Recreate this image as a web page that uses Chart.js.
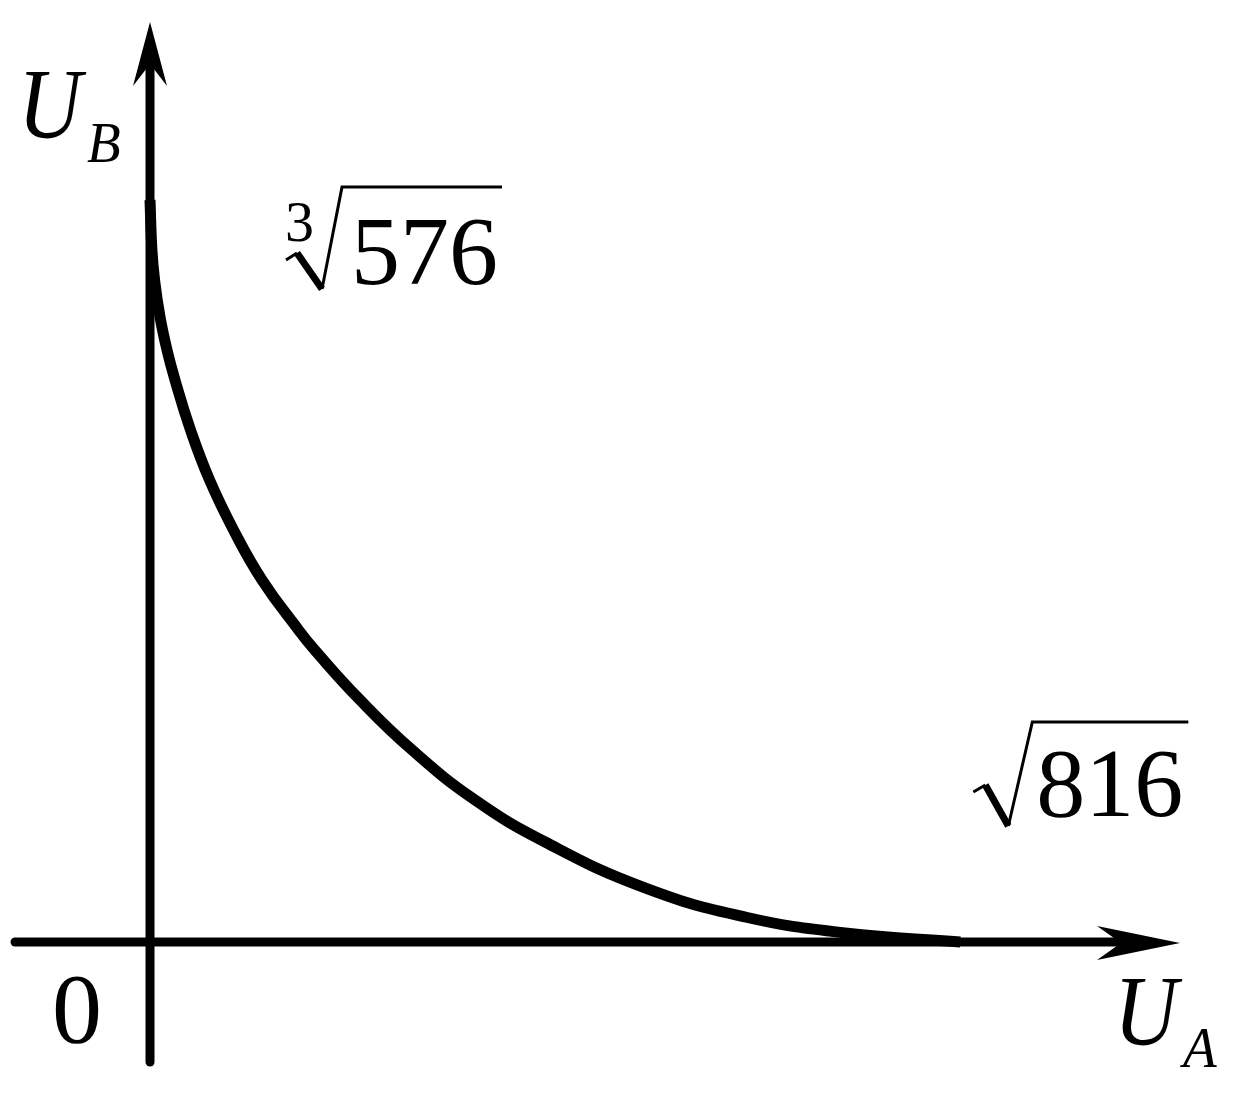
<!DOCTYPE html>
<html>
<head>
<meta charset="utf-8">
<script src="https://cdn.jsdelivr.net/npm/chart.js@4/dist/chart.umd.min.js"></script>
<style>
  html, body { margin: 0; padding: 0; background: #fff; }
  #wrap { width: 1240px; height: 1118px; position: relative; }
</style>
</head>
<body>
<div id="wrap"><canvas id="myChart"></canvas></div>
<script>
// frontier: U_A (x) and U_B (y)
const uA = [0, 0.067, 0.169, 0.353, 0.599, 0.881, 1.428, 2.098, 2.944, 3.949, 5.236, 5.818, 7.405, 9.238, 11.46, 13.93, 17.45, 20.98, 24.51, 28.57];
const uB = [8.32, 7.759, 7.401, 7.008, 6.638, 6.302, 5.741, 5.181, 4.620, 4.059, 3.499, 3.27, 2.714, 2.153, 1.592, 1.121, 0.606, 0.280, 0.101, 0];

// intercept labels
const yInterceptIndex = '3';
const yInterceptText = '576';
const xInterceptText = '816';
const axisNames = { x: ['U', 'A'], y: ['U', 'B'] };
const originLabel = '0';

const points = uA.map((v, i) => ({ x: v, y: uB[i] }));

const serif = '"Liberation Serif", "Times New Roman", serif';

function arrowHead(ctx, tip, dirX, dirY, len, half, notch) {
  // dir points toward tip, notch = how far the back is cut in
  const bx = tip[0] - dirX * len, by = tip[1] - dirY * len;
  const nx = -dirY, ny = dirX;
  ctx.beginPath();
  ctx.moveTo(tip[0], tip[1]);
  ctx.lineTo(bx + nx * half, by + ny * half);
  ctx.lineTo(bx + dirX * notch, by + dirY * notch);
  ctx.lineTo(bx - nx * half, by - ny * half);
  ctx.closePath();
  ctx.fill();
}

function radical(ctx, pts, thick) {
  ctx.lineCap = 'butt';
  ctx.lineJoin = 'miter';
  ctx.lineWidth = 3;
  ctx.beginPath();
  ctx.moveTo(pts[0][0], pts[0][1]);
  ctx.lineTo(pts[1][0], pts[1][1]);
  ctx.stroke();
  ctx.lineWidth = thick;
  ctx.beginPath();
  ctx.moveTo(pts[1][0], pts[1][1]);
  ctx.lineTo(pts[2][0], pts[2][1]);
  ctx.stroke();
  ctx.lineWidth = 3;
  ctx.beginPath();
  ctx.moveTo(pts[2][0], pts[2][1]);
  ctx.lineTo(pts[3][0], pts[3][1]);
  ctx.lineTo(pts[4][0], pts[4][1]);
  ctx.stroke();
}

function italicText(ctx, txt, x, y, size, squeeze) {
  ctx.save();
  ctx.translate(x, y);
  ctx.scale(squeeze, 1);
  ctx.font = 'italic ' + size + 'px ' + serif;
  ctx.fillText(txt, 0, 0);
  ctx.restore();
}

const axesPlugin = {
  id: 'axesPlugin',
  beforeDatasetsDraw(chart) {
    const ctx = chart.ctx;
    const sx = chart.scales.x, sy = chart.scales.y;
    const ox = sx.getPixelForValue(0), oy = sy.getPixelForValue(0);
    ctx.save();
    ctx.strokeStyle = '#000';
    ctx.fillStyle = '#000';
    ctx.lineWidth = 9;
    ctx.lineCap = 'round';
    // x axis
    ctx.beginPath();
    ctx.moveTo(ox - 135, oy);
    ctx.lineTo(ox + 975, oy);
    ctx.stroke();
    arrowHead(ctx, [ox + 1030, oy + 1], 1, 0, 83, 17, 24);
    // y axis
    ctx.beginPath();
    ctx.moveTo(ox, oy + 120);
    ctx.lineTo(ox, oy - 875);
    ctx.stroke();
    arrowHead(ctx, [ox, oy - 920], 0, -1, 64, 17, 22);
    ctx.restore();
  },
  afterDatasetsDraw(chart) {
    const ctx = chart.ctx;
    const sx = chart.scales.x, sy = chart.scales.y;
    const ox = sx.getPixelForValue(0), oy = sy.getPixelForValue(0);
    const topY = sy.getPixelForValue(uB[0]);
    const endX = sx.getPixelForValue(uA[uA.length - 1]);
    ctx.save();
    ctx.fillStyle = '#000';
    ctx.strokeStyle = '#000';
    ctx.textBaseline = 'alphabetic';
    ctx.textAlign = 'left';

    // U_B
    italicText(ctx, axisNames.y[0], ox - 132, oy - 805, 100, 0.88);
    italicText(ctx, axisNames.y[1], ox - 63, oy - 780, 58, 0.95);

    // U_A
    italicText(ctx, axisNames.x[0], ox + 964, oy + 102, 100, 0.88);
    italicText(ctx, axisNames.x[1], ox + 1033, oy + 125, 58, 0.95);

    // origin
    ctx.font = '100px ' + serif;
    ctx.fillText(originLabel, ox - 98, oy + 100);

    // cube root of 576 near the top of the curve
    const ax = ox + 135, ay = topY;
    ctx.font = '58px ' + serif;
    ctx.fillText(yInterceptIndex, ax, ay + 41);
    radical(ctx, [[ax + 1, ay + 60], [ax + 12, ay + 53], [ax + 37, ay + 89], [ax + 57, ay - 13], [ax + 217, ay - 13]], 7);
    ctx.font = '98px ' + serif;
    ctx.fillText(yInterceptText, ax + 66, ay + 84);

    // square root of 816 above the end of the curve
    const bx = endX + 13, by = oy;
    radical(ctx, [[bx, by - 150], [bx + 12, by - 157], [bx + 35, by - 116], [bx + 59, by - 220], [bx + 215, by - 220]], 7);
    ctx.font = '98px ' + serif;
    ctx.fillText(xInterceptText, bx + 63, by - 126);
    ctx.restore();
  }
};

const ctx = document.querySelector('#myChart');

new Chart(ctx, {
  type: 'scatter',
  data: {
    datasets: [{
      data: points,
      showLine: true,
      borderColor: '#000',
      borderWidth: 11,
      borderCapStyle: 'butt',
      tension: 0.45,
      pointRadius: 0,
      fill: false
    }]
  },
  options: {
    responsive: true,
    maintainAspectRatio: false,
    animation: false,
    layout: { padding: 0 },
    plugins: {
      legend: { display: false },
      tooltip: { enabled: false }
    },
    scales: {
      x: { type: 'linear', min: -5.289, max: 38.43, display: false },
      y: { type: 'linear', min: -1.974, max: 10.563, display: false }
    }
  },
  plugins: [axesPlugin]
});
</script>
</body>
</html>
